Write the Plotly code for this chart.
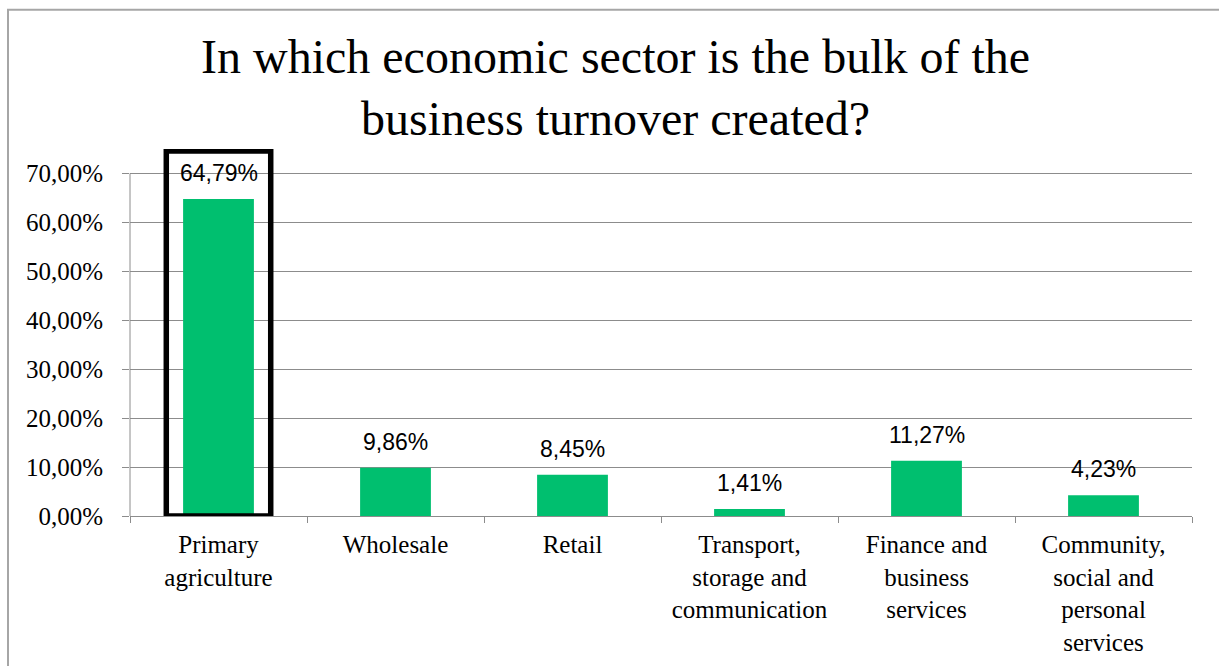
import plotly.graph_objects as go

# Share of business turnover by economic sector
sectors = [
    "Primary<br>agriculture",
    "Wholesale",
    "Retail",
    "Transport,<br>storage and<br>communication",
    "Finance and<br>business<br>services",
    "Community,<br>social and<br>personal<br>services",
]
turnover_pct = [64.79, 9.86, 8.45, 1.41, 11.27, 4.23]
value_labels = ["64,79%", "9,86%", "8,45%", "1,41%", "11,27%", "4,23%"]
y_tick_vals = [0, 10, 20, 30, 40, 50, 60, 70]
y_tick_text = ["0,00%", "10,00%", "20,00%", "30,00%", "40,00%", "50,00%", "60,00%", "70,00%"]

BAR_GREEN = "#00BF6F"
GRID = "#8c8c8c"
SERIF = "Liberation Serif, Times New Roman, serif"
SANS = "Liberation Sans, Arial, sans-serif"

W, H = 1219, 666
L, R = 130, 1192          # plot area, pixels
TOP, BOTTOM = 148.5, 516
PLOT_H = BOTTOM - TOP

fig = go.Figure(
    go.Bar(
        x=sectors,
        y=turnover_pct,
        width=0.40,
        marker=dict(color=BAR_GREEN, line=dict(width=0)),
        hoverinfo="skip",
    )
)

# value labels above each bar
annotations = [
    dict(x=s, y=v, xref="x", yref="y", text=t, showarrow=False,
         yanchor="bottom", yshift=11,
         font=dict(family=SANS, size=23, color="#000000"))
    for s, v, t in zip(sectors, turnover_pct, value_labels)
]
# chart title
annotations.append(
    dict(text="In which economic sector is the bulk of the<br>business turnover created?",
         xref="paper", yref="paper",
         x=(615 - L) / (R - L), y=(BOTTOM - 87) / PLOT_H,
         xanchor="center", yanchor="middle", showarrow=False,
         font=dict(family=SERIF, size=48, color="#000000"))
)

fig.update_layout(
    width=W,
    height=H,
    margin=dict(l=L, r=W - R, t=TOP, b=H - BOTTOM, autoexpand=False),
    paper_bgcolor="white",
    plot_bgcolor="white",
    showlegend=False,
    annotations=annotations,
    xaxis=dict(
        type="category",
        automargin=False,
        showline=True,
        linecolor=GRID,
        linewidth=1,
        ticks="outside",
        tickson="boundaries",
        ticklen=6,
        tickcolor=GRID,
        showgrid=False,
        tickfont=dict(family=SERIF, size=25, color="#000000"),
        ticklabelstandoff=6,
    ),
    yaxis=dict(
        range=[0, 75],
        automargin=False,
        tickvals=y_tick_vals,
        ticktext=y_tick_text,
        showgrid=True,
        gridcolor=GRID,
        gridwidth=1,
        zeroline=False,
        showline=False,
        ticks="outside",
        ticklen=7,
        tickcolor=GRID,
        ticklabelstandoff=14,
        tickfont=dict(family=SERIF, size=25, color="#000000"),
    ),
    shapes=[
        # value axis line, drawn only up to the top tick
        dict(type="line", xref="paper", yref="y", x0=0, x1=0, y0=0, y1=70,
             line=dict(color=GRID, width=1)),
        # highlight box around the leading sector
        dict(type="rect", xref="x", yref="y", x0=-0.295, x1=0.295, y0=0, y1=74.6,
             line=dict(color="#000000", width=5.5), fillcolor="rgba(0,0,0,0)",
             layer="above"),
        # chart frame
        dict(type="rect", xref="paper", yref="paper",
             x0=(8 - L) / (R - L), x1=(1240 - L) / (R - L),
             y0=(BOTTOM - 700) / PLOT_H, y1=(BOTTOM - 9) / PLOT_H,
             line=dict(color="#a6a6a6", width=2), fillcolor="rgba(0,0,0,0)",
             layer="below"),
    ],
)

fig.write_html("out.html")
